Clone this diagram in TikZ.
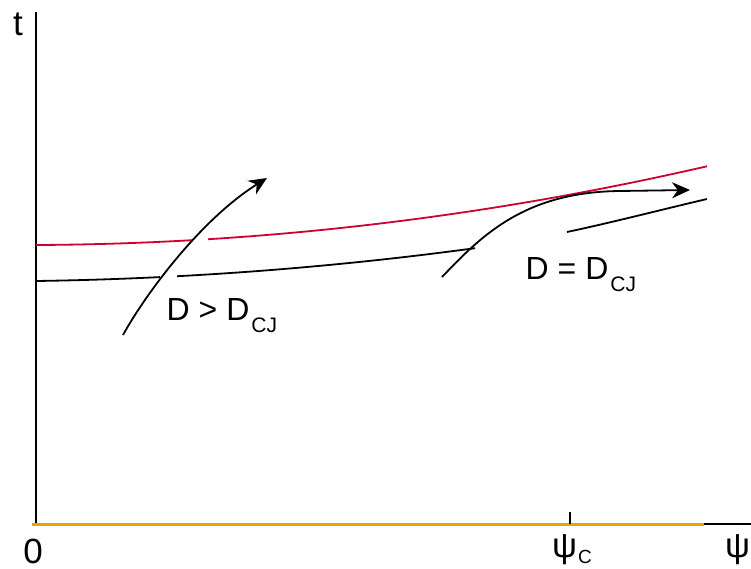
\documentclass[tikz,border=0pt]{standalone}
\usepackage{fontspec}
\setmainfont{Liberation Sans}
\usetikzlibrary{arrows.meta}
\definecolor{curvered}{RGB}{204,0,51}
\definecolor{axisorange}{RGB}{232,165,0}
\tikzset{
  axisline/.style={black,line width=1.8pt},
  redcurve/.style={curvered,line width=1.8pt},
  blackcurve/.style={black,line width=1.8pt},
  path/.style={black,line width=1.8pt,-{Stealth[length=18pt,width=16pt]}},
  axlabel/.style={inner sep=0pt,font=\fontsize{35}{35}\selectfont},
  dlabel/.style={inner sep=0pt,anchor=base west,font=\fontsize{32}{32}\selectfont},
}
\newcommand{\subcj}{\kern2pt\raisebox{-12pt}{\fontsize{21}{21}\selectfont CJ}}
\begin{document}
\begin{tikzpicture}[x=1pt,y=-1pt]
\useasboundingbox (0,0) rectangle (751,569);
% axes
\coordinate (ytop) at (36,12);
\coordinate (orig) at (36,524);
\coordinate (xo0) at (32,524);
\coordinate (xo1) at (704,524);
\coordinate (xend) at (751,524);
\coordinate (tick0) at (570,512);
\coordinate (tick1) at (570,524);
\draw[axisline] (ytop) -- (orig);
\draw[axisline] (xo1) -- (xend);
\draw[axisorange,line width=3pt] (xo0) -- (xo1);
\draw[axisline] (tick0) -- (tick1);
% red curve
\draw[redcurve] plot[domain=36:193,samples=40] (\x,{245-0.0047*(\x-36)-0.0001729*(\x-36)*(\x-36)});
\draw[redcurve] plot[domain=208:707,samples=80] (\x,{245-0.0047*(\x-36)-0.0001729*(\x-36)*(\x-36)});
% black curve
\draw[blackcurve] plot[domain=36:160,samples=30] (\x,{281-0.01447*(\x-36)-0.0001435*(\x-36)*(\x-36)});
\draw[blackcurve] plot[domain=177:475,samples=60] (\x,{281-0.01447*(\x-36)-0.0001435*(\x-36)*(\x-36)});
\coordinate (bs0) at (567,232);
\coordinate (bs1) at (707,199);
\draw[blackcurve] (bs0) .. controls (614,222) and (660,210) .. (bs1);
% arrows
\coordinate (a0) at (123,335);
\coordinate (a1) at (267,178);
\draw[path] (a0) .. controls (145,295) and (200,220) .. (a1);
\coordinate (b0) at (442,277);
\coordinate (b1) at (620,191);
\coordinate (b2) at (690,190);
\draw[path] (b0) .. controls (482,235) and (525,192) .. (b1) -- (b2);
% labels
\node[axlabel,anchor=base] (tlabel) at (18,36) {t};
\node[axlabel,anchor=base] (zerolabel) at (33,563) {0};
\node[axlabel,anchor=base west] (psiclabel) at (552,557) {ψ\kern1pt\raisebox{-6pt}{\fontsize{19}{19}\selectfont C}};
\node[axlabel,anchor=base west] (psilabel) at (725,557) {ψ};
\node[dlabel] (gtlabel) at (166.5,320) {D > D\subcj};
\node[dlabel] (eqlabel) at (525.5,279) {D = D\subcj};
\end{tikzpicture}
\end{document}
